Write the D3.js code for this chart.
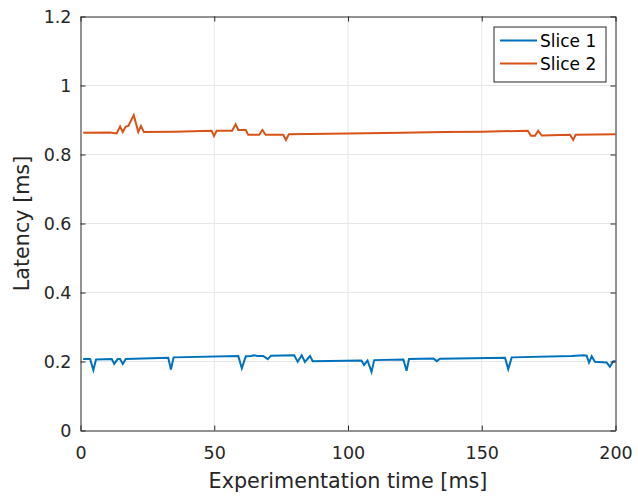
<!DOCTYPE html>
<html>
<head>
<meta charset="utf-8">
<script src="https://cdn.jsdelivr.net/npm/d3@7"></script>
<style>
  body { margin: 0; background: #fff; }
  svg { font-family: "DejaVu Sans", "Liberation Sans", Arial, sans-serif; }
</style>
</head>
<body>
<div id="chart"></div>
<script>
// Data
var time1 = [1, 3.6, 4.8, 5.8, 11.7, 12.6, 13.9, 14.8, 15.8, 16.9, 32.8, 33.8, 34.8, 59, 60.3, 61.8,
  63.7, 65, 66, 68.3, 70, 71.2, 79.9, 81.2, 82.7, 83.9, 85.8, 86.8, 105, 106, 107.3, 108.8, 109.8,
  120.7, 121.9, 122.8, 131.9, 133.2, 134.4, 158.7, 159.9, 161.2, 183.6, 188, 189.2, 190.1, 191.1,
  192.3, 196.7, 197.9, 199.2, 200];
var slice1 = [0.207, 0.207, 0.175, 0.206, 0.207, 0.193, 0.207, 0.207, 0.193, 0.207, 0.211, 0.177, 0.212,
  0.216, 0.180, 0.215, 0.216, 0.218, 0.216, 0.216, 0.207, 0.217, 0.218, 0.199, 0.218, 0.199, 0.216,
  0.201, 0.203, 0.190, 0.203, 0.170, 0.204, 0.206, 0.173, 0.207, 0.209, 0.201, 0.208, 0.211, 0.178,
  0.212, 0.216, 0.218, 0.217, 0.197, 0.215, 0.199, 0.197, 0.185, 0.201, 0.201];

var time2 = [1, 11, 13.5, 14.8, 15.8, 16.9, 17.9, 19.9, 21.6, 22.6, 23.7, 35, 49, 49.9, 50.9, 56.7, 58,
  59, 61.8, 62.7, 66.8, 68, 69.2, 75.8, 76.8, 77.9, 100, 120, 136, 150, 167.2, 168.4, 169.9, 171.1,
  172.4, 183, 184.2, 185.1, 200];
var slice2 = [0.863, 0.864, 0.861, 0.881, 0.865, 0.881, 0.883, 0.914, 0.865, 0.883, 0.865, 0.866, 0.869,
  0.854, 0.869, 0.869, 0.888, 0.871, 0.871, 0.857, 0.857, 0.871, 0.857, 0.857, 0.842, 0.859, 0.861,
  0.863, 0.865, 0.866, 0.869, 0.854, 0.854, 0.869, 0.855, 0.857, 0.842, 0.857, 0.859];

var xTicks = [0, 50, 100, 150, 200];
var yTicks = [0, 0.2, 0.4, 0.6, 0.8, 1, 1.2];
var seriesNames = ["Slice 1", "Slice 2"];
var colors = ["#0072BD", "#D95319"];

// chart area
var svgWidth = 638, svgHeight = 502;
var margin = {top: 16.5, right: 22.5, bottom: 71.5, left: 80.5};
var width = svgWidth - margin.left - margin.right;
var height = svgHeight - margin.top - margin.bottom;

var svg = d3.select("#chart").append("svg")
  .attr("width", svgWidth).attr("height", svgHeight);

var g = svg.append("g")
  .attr("transform", `translate(${margin.left}, ${margin.top})`);

var x = d3.scaleLinear().domain([0, 200]).range([0, width]);
var y = d3.scaleLinear().domain([0, 1.2]).range([height, 0]);

// grid
g.append("g").selectAll("line").data(xTicks.slice(1, -1)).enter().append("line")
  .attr("x1", d => x(d)).attr("x2", d => x(d))
  .attr("y1", 0).attr("y2", height)
  .attr("stroke", "#e6e6e6").attr("stroke-width", 1);
g.append("g").selectAll("line").data(yTicks.slice(1, -1)).enter().append("line")
  .attr("y1", d => y(d)).attr("y2", d => y(d))
  .attr("x1", 0).attr("x2", width)
  .attr("stroke", "#e6e6e6").attr("stroke-width", 1);

// lines
var seriesData = [
  time1.map((t, i) => [t, slice1[i]]),
  time2.map((t, i) => [t, slice2[i]])
];
var line = d3.line().x(d => x(d[0])).y(d => y(d[1]));
seriesData.forEach(function(s, i) {
  g.append("path").datum(s)
    .attr("fill", "none")
    .attr("stroke", colors[i])
    .attr("stroke-width", 2)
    .attr("d", line);
});

// axes (ticks inward, box on)
var axisColor = "#262626";
var xAxis = g.append("g").attr("transform", `translate(0, ${height})`)
  .call(d3.axisBottom(x).tickValues(xTicks).tickSizeInner(-5).tickSizeOuter(0).tickPadding(16));
var yAxis = g.append("g")
  .call(d3.axisLeft(y).tickValues(yTicks).tickFormat(d3.format("~g")).tickSizeInner(-5).tickSizeOuter(0).tickPadding(9));
var topAxis = g.append("g")
  .call(d3.axisTop(x).tickValues(xTicks).tickSizeInner(-5).tickSizeOuter(0).tickFormat(""));
var rightAxis = g.append("g").attr("transform", `translate(${width}, 0)`)
  .call(d3.axisRight(y).tickValues(yTicks).tickSizeInner(-5).tickSizeOuter(0).tickFormat(""));

[xAxis, yAxis, topAxis, rightAxis].forEach(function(a) {
  a.select(".domain").attr("stroke", axisColor).attr("stroke-width", 1);
  a.selectAll(".tick line").attr("stroke", axisColor);
  a.selectAll(".tick text").attr("fill", axisColor)
    .attr("font-family", "DejaVu Sans").attr("font-size", "17.5px");
});

// axis labels
svg.append("text")
  .attr("x", margin.left + width / 2).attr("y", 487.5)
  .attr("text-anchor", "middle").attr("font-size", "20.7px").attr("fill", axisColor)
  .text("Experimentation time [ms]");

svg.append("text")
  .attr("transform", `translate(28.5, ${margin.top + height / 2}) rotate(-90)`)
  .attr("text-anchor", "middle").attr("font-size", "20.7px").attr("fill", axisColor)
  .text("Latency [ms]");

// legend
var legend = svg.append("g").attr("transform", "translate(494, 27)");
legend.append("rect")
  .attr("width", 112).attr("height", 55)
  .attr("fill", "#fff").attr("stroke", axisColor).attr("stroke-width", 1);
seriesNames.forEach(function(name, i) {
  var ly = 13.5 + i * 23;
  legend.append("line")
    .attr("x1", 6).attr("x2", 43).attr("y1", ly).attr("y2", ly)
    .attr("stroke", colors[i]).attr("stroke-width", 2);
  legend.append("text")
    .attr("x", 46).attr("y", ly + 6)
    .attr("font-size", "17px").attr("fill", "#000")
    .text(name);
});
</script>
</body>
</html>
